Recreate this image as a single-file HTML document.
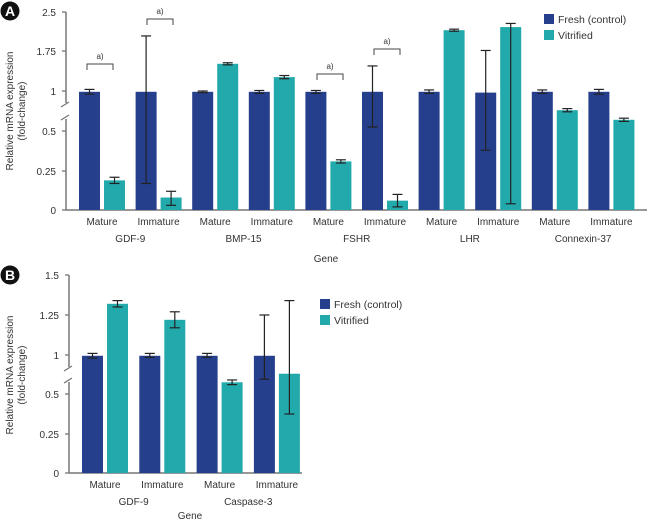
<!DOCTYPE html>
<html><head><meta charset="utf-8"><style>
html,body{margin:0;padding:0;background:#fff;}
svg{display:block;font-family:"Liberation Sans",sans-serif;}
</style></head><body>
<svg id="c" width="649" height="523" viewBox="0 0 649 523" xmlns="http://www.w3.org/2000/svg"></svg>
<script>
// Panel A data
const aCategories = ["Mature","Immature","Mature","Immature","Mature","Immature","Mature","Immature","Mature","Immature"];
const aGenes = ["GDF-9","BMP-15","FSHR","LHR","Connexin-37"];
const aFresh = [0.99,0.99,0.99,0.99,0.99,0.99,0.99,0.98,0.99,0.99];
const aFreshLo = [0.96,0.17,0.98,0.97,0.97,0.55,0.97,0.38,0.97,0.96];
const aFreshHi = [1.03,2.04,1.00,1.01,1.01,1.47,1.02,1.76,1.02,1.03];
const aVit = [0.19,0.08,1.51,1.26,0.31,0.06,2.15,2.21,0.76,0.64];
const aVitLo = [0.17,0.03,1.49,1.23,0.30,0.02,2.13,0.04,0.74,0.62];
const aVitHi = [0.21,0.12,1.53,1.29,0.32,0.10,2.17,2.28,0.78,0.66];
const aTicks = [0,0.25,0.5,1,1.75,2.5];
const aTickLabels = ["0","0.25","0.5","1","1.75","2.5"];
// Panel B data
const bCategories = ["Mature","Immature","Mature","Immature"];
const bGenes = ["GDF-9","Caspase-3"];
const bFresh = [0.99,0.99,0.99,0.99];
const bFreshLo = [0.96,0.97,0.97,0.69];
const bFreshHi = [1.01,1.01,1.01,1.25];
const bVit = [1.32,1.22,0.65,0.76];
const bVitLo = [1.30,1.17,0.62,0.375];
const bVitHi = [1.34,1.27,0.68,1.34];
const bTicks = [0,0.25,0.5,1,1.25,1.5];
const bTickLabels = ["0","0.25","0.5","1","1.25","1.5"];

const NS="http://www.w3.org/2000/svg";
const svg=document.getElementById('c');
const NAVY="#253f8c", TEAL="#22a9ab", AX="#777";
function mk(tag,attrs,parent){const e=document.createElementNS(NS,tag);for(const k in attrs)e.setAttribute(k,attrs[k]);(parent||svg).appendChild(e);return e;}
function txt(s,x,y,size,anchor,parent){const t=mk('text',{x:x,y:y,'font-size':size,'text-anchor':anchor||'middle',fill:'#333'},parent);t.textContent=s;return t;}
function scaleFor(ticks,pix){return v=>{for(let i=0;i<ticks.length-1;i++){if(v<=ticks[i+1]||i===ticks.length-2){const f=(v-ticks[i])/(ticks[i+1]-ticks[i]);return pix[i]+f*(pix[i+1]-pix[i]);}}};}
function errbar(x,lo,hi,y,g){mk('line',{x1:x,x2:x,y1:y(lo),y2:y(hi),stroke:'#222','stroke-width':1.2},g);[lo,hi].forEach(v=>mk('line',{x1:x-5,x2:x+5,y1:y(v),y2:y(v),stroke:'#222','stroke-width':1.2},g));}

function panel(o){
  const g=mk('g',{});
  
  
  const y=scaleFor(o.ticks,o.tickPix);
  const x0=o.axisX, y0=o.tickPix[0];
  const b=mk('g',{},g);
  
  
  mk('circle',{cx:o.badge[0],cy:o.badge[1],r:9.5,fill:'#111'},b);
  const bt=txt(o.letter,o.badge[0],o.badge[1]+5,14,'middle',b);bt.setAttribute('fill','#fff');bt.setAttribute('font-weight','bold');
  const ya=mk('g',{},g);
  
  
  const brkTop=o.tickPix[3]+12, brkBot=o.tickPix[2]-12;
  mk('line',{x1:x0,x2:x0,y1:o.tickPix[o.tickPix.length-1],y2:brkTop,stroke:AX,'stroke-width':1.5},ya);
  mk('line',{x1:x0,x2:x0,y1:brkBot,y2:y0,stroke:AX,'stroke-width':1.5},ya);
  mk('line',{x1:x0-5,x2:x0+3,y1:brkTop+4,y2:brkTop-1,stroke:AX,'stroke-width':1.3},ya);
  mk('line',{x1:x0-5,x2:x0+3,y1:brkBot+1,y2:brkBot-4,stroke:AX,'stroke-width':1.3},ya);
  o.ticks.forEach((t,i)=>{const py=y(t);mk('line',{x1:x0-4,x2:x0,y1:py,y2:py,stroke:AX,'stroke-width':1.3},ya);const l=txt(o.tickLabels[i],x0-10,py+4,10,'end',ya);});
  const yt=mk('text',{x:0,y:0,'font-size':10,'text-anchor':'middle',fill:'#333',transform:`translate(${o.ytX},${o.ytY}) rotate(-90)`},ya);
  
  
  const s1=mk('tspan',{x:0,dy:0},yt);s1.textContent='Relative mRNA expression';
  const s2=mk('tspan',{x:0,dy:12},yt);s2.textContent='(fold-change)';
  const xa=mk('line',{x1:x0,x2:o.axisEnd,y1:y0,y2:y0,stroke:AX,'stroke-width':1.5},g);
  
  
  const bw=21,gap=4;
  o.cats.forEach((c,i)=>{
    const px=o.first+o.pitch*i;
    const bf=mk('rect',{x:px,y:y(o.fresh[i]),width:bw,height:y0-y(o.fresh[i]),fill:NAVY},g);
    
    
    const bv=mk('rect',{x:px+bw+gap,y:y(o.vit[i]),width:bw,height:y0-y(o.vit[i]),fill:TEAL},g);
    
    
    errbar(px+bw/2,o.fLo[i],o.fHi[i],y,g);
    errbar(px+bw+gap+bw/2,o.vLo[i],o.vHi[i],y,g);
    const l=txt(c,px+bw+gap/2,y0+15,10,'middle',g);
    
    
  });
  o.genes.forEach((gn,j)=>{
    const cx=o.first+o.pitch*(2*j+1)+bw+gap/2-o.pitch/2;
    const l=txt(gn,cx,y0+32,10,'middle',g);
    
    
  });
  const xt=txt('Gene',o.geneX,o.geneY,10,'middle',g);
  
  
  const lg=mk('g',{},g);
  
  
  [[NAVY,'Fresh (control)'],[TEAL,'Vitrified']].forEach((e,i)=>{
    const ly=o.legend[1]+i*16;
    mk('rect',{x:o.legend[0],y:ly,width:10,height:10,fill:e[0]},lg);
    const t=txt(e[1],o.legend[0]+14,ly+9,10.5,'start',lg);
    
    
  });
  return y;
}

panel({name:'panel-a',letter:'A',badge:[10,11],ticks:aTicks,tickLabels:aTickLabels,tickPix:[210,171,131,91,51,12],
  axisX:66,axisEnd:647,first:79,pitch:56.6,cats:aCategories,genes:aGenes,fresh:aFresh,fLo:aFreshLo,fHi:aFreshHi,vit:aVit,vLo:aVitLo,vHi:aVitHi,
  ytX:13,ytY:111,geneX:326,geneY:262,legend:[544,14]});
[[87,113,64],[147,173,19],[317,343,74],[374,400,49]].forEach(b=>{
  const g=mk('g',{});
  
  
  mk('polyline',{points:`${b[0]},${b[2]+6} ${b[0]},${b[2]} ${b[1]},${b[2]} ${b[1]},${b[2]+6}`,fill:'none',stroke:'#444','stroke-width':1},g);
  txt('a)',(b[0]+b[1])/2,b[2]-5,8,'middle',g);
});
panel({name:'panel-b',letter:'B',badge:[10,275],ticks:bTicks,tickLabels:bTickLabels,tickPix:[473,434,394,355,315,275],
  axisX:69,axisEnd:302,first:82,pitch:57.3,cats:bCategories,genes:bGenes,fresh:bFresh,fLo:bFreshLo,fHi:bFreshHi,vit:bVit,vLo:bVitLo,vHi:bVitHi,
  ytX:13,ytY:375,geneX:190,geneY:519,legend:[320,299]});
</script>
</body></html>
